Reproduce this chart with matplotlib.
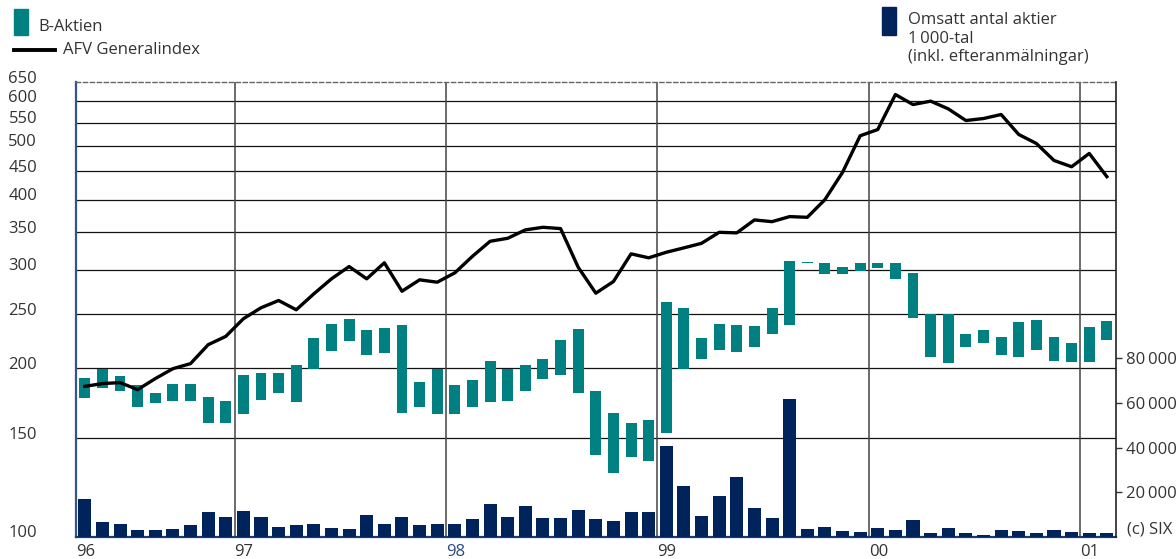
import numpy as np
import pandas as pd
import matplotlib
matplotlib.use("Agg")
import matplotlib.pyplot as plt
from matplotlib.patches import Rectangle
from matplotlib.lines import Line2D
from matplotlib.ticker import NullLocator, NullFormatter
from matplotlib.transforms import ScaledTranslation

plt.rcParams['font.family'] = ['Open Sans', 'DejaVu Sans']

# monthly data, April 1996 - February 2001
months = pd.period_range("1996-04", "2001-02", freq="M")

# B-Aktien monthly high / low (SEK)
b_high = [191.9, 199.2, 193.5, 186.5, 180.5, 187.3, 187.3, 177.5, 174.6,
          194.3, 195.9, 195.9, 202.5, 226.2, 239.6, 244.6, 233.8, 235.7, 238.6, 188.8, 199.2,
          186.5, 190.4, 205.8, 199.2, 202.5, 207.5, 224.4, 234.7, 181.9, 166.2, 159.5, 161.5,
          262.3, 255.9, 226.2, 239.6, 238.6, 237.7, 255.9, 311.7, 310.4, 309.1, 304.1, 309.1,
          309.1, 309.1, 295.5, 249.7, 249.7, 230.0, 233.8, 227.2, 241.6, 243.6, 227.2, 221.6,
          236.7, 242.6]
b_low = [177.0, 184.5, 182.2, 170.6, 173.4, 174.8, 174.8, 159.7, 159.7,
         165.8, 175.6, 180.7, 174.1, 199.7, 214.7, 223.7, 211.2, 213.0, 166.4, 170.6, 165.8,
         165.8, 170.6, 174.1, 174.8, 182.2, 191.4, 194.5, 180.7, 140.1, 130.1, 138.9, 136.6,
         153.3, 199.4, 207.8, 215.6, 213.8, 218.3, 230.3, 238.9, 308.2, 294.6, 294.6, 298.3,
         302.0, 288.6, 245.9, 209.5, 204.4, 218.3, 221.9, 211.2, 209.5, 215.6, 206.1, 205.2,
         205.2, 224.7]

# AFV Generalindex
afv_index = [185.7, 187.8, 188.6, 183.2, 191.7, 199.7, 203.9, 220.4, 228.1,
             245.3, 256.6, 264.4, 254.5, 271.8, 289.1, 304.1, 289.1, 308.8, 274.7, 287.9, 285.1,
             296.3, 317.2, 337.4, 341.6, 353.6, 357.4, 355.5, 303.2, 272.5, 285.9, 320.4, 315.2,
             322.5, 328.4, 334.6, 350.1, 349.3, 368.4, 365.8, 373.5, 372.4, 400.5, 448.1, 520.9,
             534.5, 617.3, 592.4, 600.7, 582.0, 554.7, 559.3, 568.6, 523.7, 504.7, 470.6, 458.6,
             484.4, 440.2]

# traded shares, thousands
volume = [16900, 6600, 5700, 3000, 3000, 3450, 5250, 11100, 8830,
          11500, 8830, 4350, 5250, 5700, 3900, 3450, 9730, 5700, 8830, 5250, 5700,
          5700, 7940, 14660, 8830, 13770, 8390, 8390, 11970, 7940, 7040, 11100, 11100,
          40670, 22730, 9280, 18250, 26770, 12870, 8390, 61750, 3450, 4350, 2560, 2100,
          3900, 3000, 7490, 1660, 3900, 1660, 760, 3000, 2560, 1660, 3000, 2100,
          1660, 1660]

price_ticks = [100, 150, 200, 250, 300, 350, 400, 450, 500, 550, 600, 650]
vol_ticks = [20000, 40000, 60000, 80000]

TEAL = "#008080"
NAVY = "#00235c"
TXT = "#333333"
AXBLUE = "#34558c"

x = np.arange(len(months))
year_starts = [i for i, m in enumerate(months) if m.month == 1]

fig = plt.figure(figsize=(11.76, 5.59), dpi=100)
ax = fig.add_axes([0.0646, 0.0399, 0.8841, 0.8134])

ax.set_yscale('log')
ax.set_ylim(price_ticks[0], price_ticks[-1])
ax.set_xlim(-0.5, len(months) - 0.5)

for v in price_ticks[1:-1]:
    ax.axhline(v, color='#111111', lw=0.9, zorder=1)
for i in year_starts:
    ax.axvline(i - 0.5, color='#444444', lw=1.1, zorder=1)

lo = np.array(b_low)
hi = np.array(b_high)
ax.bar(x, hi - lo, bottom=lo, width=0.62, color=TEAL, zorder=3)
ax.plot(x, afv_index, color='black', lw=2.4, zorder=4)

# left axis labels sit a little above their grid lines
ax.set_yticks(price_ticks)
ax.set_yticklabels([str(v) for v in price_ticks])
ax.yaxis.set_minor_locator(NullLocator())
ax.yaxis.set_minor_formatter(NullFormatter())
ax.tick_params(axis='y', length=0, pad=28, labelsize=12, labelcolor=TXT)
shift = ScaledTranslation(0, 5.5 / 100, fig.dpi_scale_trans)
for lbl in ax.get_yticklabels():
    lbl.set_transform(lbl.get_transform() + shift)

xt = [-0.5] + [i - 0.5 for i in year_starts]
xl = [str(months[0].year)[2:]] + [str(months[i].year)[2:] for i in year_starts]
ax.set_xticks(xt)
ax.set_xticklabels(xl)
ax.tick_params(axis='x', length=0, pad=5, labelsize=12, labelcolor=TXT)
for lbl in ax.get_xticklabels():
    lbl.set_ha('left')
    if lbl.get_text() == '98':
        lbl.set_color('#2a4a80')

ax.spines['left'].set_color(AXBLUE)
ax.spines['left'].set_linewidth(1.6)
ax.spines['bottom'].set_color('#1f3a6e')
ax.spines['bottom'].set_linewidth(1.6)
ax.spines['top'].set_color('#666666')
ax.spines['top'].set_linestyle((0, (3, 2)))
ax.spines['top'].set_linewidth(1.0)
ax.spines['right'].set_visible(False)

# volume on the right-hand scale
ax2 = ax.twinx()
ax2.bar(x, volume, width=0.74, color=NAVY, zorder=2)
ax2.set_ylim(0, 204000)
ax2.set_yticks(vol_ticks)
ax2.set_yticklabels([f"{v // 1000}\u2009000" for v in vol_ticks])
ax2.tick_params(axis='y', length=4.3, width=1, color=TXT, pad=3,
                labelsize=12, labelcolor=TXT)
for s in ['left', 'top', 'bottom']:
    ax2.spines[s].set_visible(False)
ax2.spines['right'].set_color('#222222')
ax2.spines['right'].set_linewidth(1.2)

W, H = 1176, 559


def fx(px):
    return px / W


def fy(py):
    return 1 - py / H


fig.text(fx(1127), fy(530), "(c) SIX", fontsize=12, color=TXT, va='center')

# legend, left block
fig.add_artist(Rectangle((fx(14), fy(34.7)), 14 / W, 25.4 / H,
                         transform=fig.transFigure, color=TEAL))
fig.text(fx(38), fy(30.7), "B-Aktien", fontsize=12, color=TXT, va='baseline')
fig.add_artist(Line2D([fx(14), fx(55)], [fy(50.3), fy(50.3)],
                      transform=fig.transFigure, color='black', lw=2.8))
fig.text(fx(63), fy(54), "AFV Generalindex", fontsize=12, color=TXT, va='baseline')

# legend, right block
fig.add_artist(Rectangle((fx(882), fy(34.7)), 14 / W, 28 / H,
                         transform=fig.transFigure, color=NAVY))
vol_legend = ["Omsatt antal aktier", "1\u2009000-tal", "(inkl. efteranmälningar)"]
for k, line in enumerate(vol_legend):
    fig.text(fx(907.7), fy(24 + 18.6 * k), line, fontsize=12, color=TXT, va='baseline')

fig.savefig("out.png", dpi=100)
